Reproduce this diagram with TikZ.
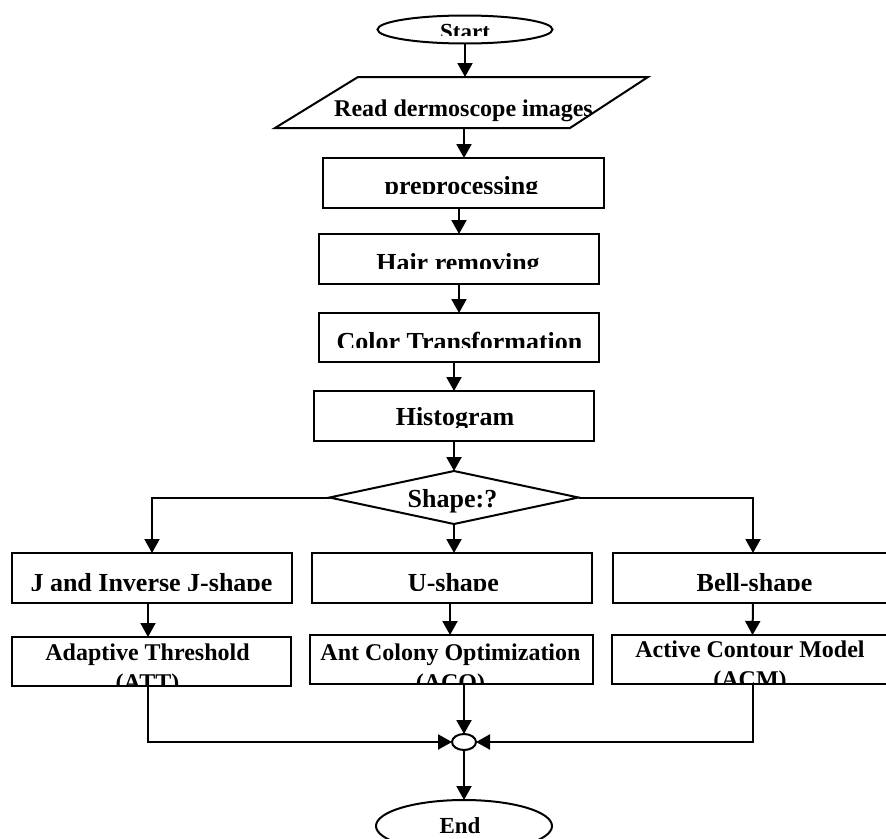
\documentclass[tikz,border=0pt]{standalone}
\usepackage{fontspec}
\setmainfont{Liberation Serif}
\usetikzlibrary{arrows.meta,shapes.geometric}
\begin{document}
\begin{tikzpicture}[x=1pt,y=-1pt,
  every node/.style={inner sep=0pt, outer sep=0pt},
  ln/.style={line width=2pt},
  arr/.style={ln,-{Triangle[length=14pt,width=15pt]}},
  stepbox/.style={draw, ln, rectangle, minimum height=50, minimum width=280},
  big/.style={anchor=base, font=\bfseries\fontsize{26}{30}\selectfont},
  mid/.style={anchor=base, font=\bfseries\fontsize{24}{30}\selectfont},
  sml/.style={anchor=base, font=\bfseries\fontsize{23}{28}\selectfont},
]
\useasboundingbox (0,0) rectangle (886,838);
\fill[white] (0,0) rectangle (886,838);

% Start
\node[draw, ln, ellipse, minimum width=175, minimum height=28] (start) at (465,29.5) {};
\begin{scope}\clip (0,0) rectangle (886,35);
  \node[sml] (t-start) at (465,39) {Start};
\end{scope}

% Read (parallelogram)
\draw[ln] (358,77) -- (648,77) -- (570,128) -- (275,128) -- cycle;
\coordinate (rd-n) at (465,77);
\coordinate (rd-s) at (464,128);
\node[mid] (t-read) at (463.5,116) {Read dermoscope images};
\draw[arr] (start.south) -- (rd-n);

% preprocessing
\node[stepbox, minimum width=281] (pre) at (463.5,183) {};
\begin{scope}\clip (0,0) rectangle (886,193);
  \node[big] (t-pre) at (461.5,194) {preprocessing};
\end{scope}
\draw[arr] (rd-s) -- (rd-s |- pre.north);

% Hair removing
\node[stepbox] (hair) at (459,259) {};
\begin{scope}\clip (0,0) rectangle (886,268);
  \node[big] (t-hair) at (458,271) {Hair removing};
\end{scope}
\draw[arr] (pre.south -| hair.north) -- (hair.north);

% Color Transformation
\node[stepbox, minimum height=49] (color) at (459,337.5) {};
\begin{scope}\clip (0,0) rectangle (886,347);
  \node[big] (t-color) at (459.5,350) {Color Transformation};
\end{scope}
\draw[arr] (hair.south) -- (color.north);

% Histogram
\node[stepbox] (hist) at (454,416) {};
\begin{scope}\clip (0,0) rectangle (886,427);
  \node[big] (t-hist) at (455,425) {Histogram};
\end{scope}
\draw[arr] (color.south -| hist.north) -- (hist.north);

% Decision
\node[draw, ln, diamond, minimum width=249, minimum height=53, shape aspect=4.7] (dia) at (454,497.5) {};
\node[big] (t-dia) at (452.5,507) {Shape:?};
\draw[arr] (hist.south) -- (dia.north);

% Shape boxes
\node[stepbox] (jbox) at (152,578) {};
\node[stepbox] (ubox) at (452,578) {};
\node[stepbox] (bell) at (753,578) {};
\begin{scope}\clip (0,0) rectangle (886,590);
  \node[big] (t-j) at (151.5,591) {J and Inverse J-shape};
  \node[big] (t-u) at (453.5,591) {U-shape};
  \node[big] (t-bell) at (754.5,591) {Bell-shape};
\end{scope}
\draw[arr] (dia.west) -| (jbox.north);
\draw[arr] (dia.east) -| (bell.north);
\draw[arr] (dia.south) -- (dia.south |- ubox.north);

% Method boxes
\node[stepbox, minimum width=279, minimum height=49] (att) at (151.5,661.5) {};
\node[stepbox, minimum width=283, minimum height=49] (aco) at (451.5,659.5) {};
\node[stepbox, minimum width=281, minimum height=49] (acm) at (752.5,659.5) {};
\begin{scope}\clip (0,0) rectangle (886,684);
  \node[mid] (t-att) at (147.5,660) {\begin{tabular}[t]{@{}c@{}}Adaptive Threshold\\(ATT)\end{tabular}};
  \node[mid] (t-aco) at (450.5,660) {\begin{tabular}[t]{@{}c@{}}Ant Colony Optimization\\(ACO)\end{tabular}};
  \node[mid] (t-acm) at (750,657) {\begin{tabular}[t]{@{}c@{}}Active Contour Model\\(ACM)\end{tabular}};
\end{scope}
\draw[arr] ([xshift=-4pt]jbox.south) -- ([xshift=-4pt]jbox.south |- att.north);
\draw[arr] ([xshift=-2pt]ubox.south) -- ([xshift=-2pt]ubox.south |- aco.north);
\draw[arr] (bell.south) -- (acm.north);

% Merge and End
\node[draw, ln, ellipse, minimum width=24, minimum height=16] (merge) at (464,742) {};
\draw[arr] ([xshift=-4pt]att.south) |- (merge.west);
\draw[arr] (aco.south -| merge.north) -- (merge.north);
\draw[arr] (acm.south) |- (merge.east);

\node[draw, ln, ellipse, minimum width=176, minimum height=52] (end) at (464,826) {};
\node[sml] (t-end) at (460,833) {End};
\draw[arr] (merge.south) -- (end.north);
\end{tikzpicture}
\end{document}
